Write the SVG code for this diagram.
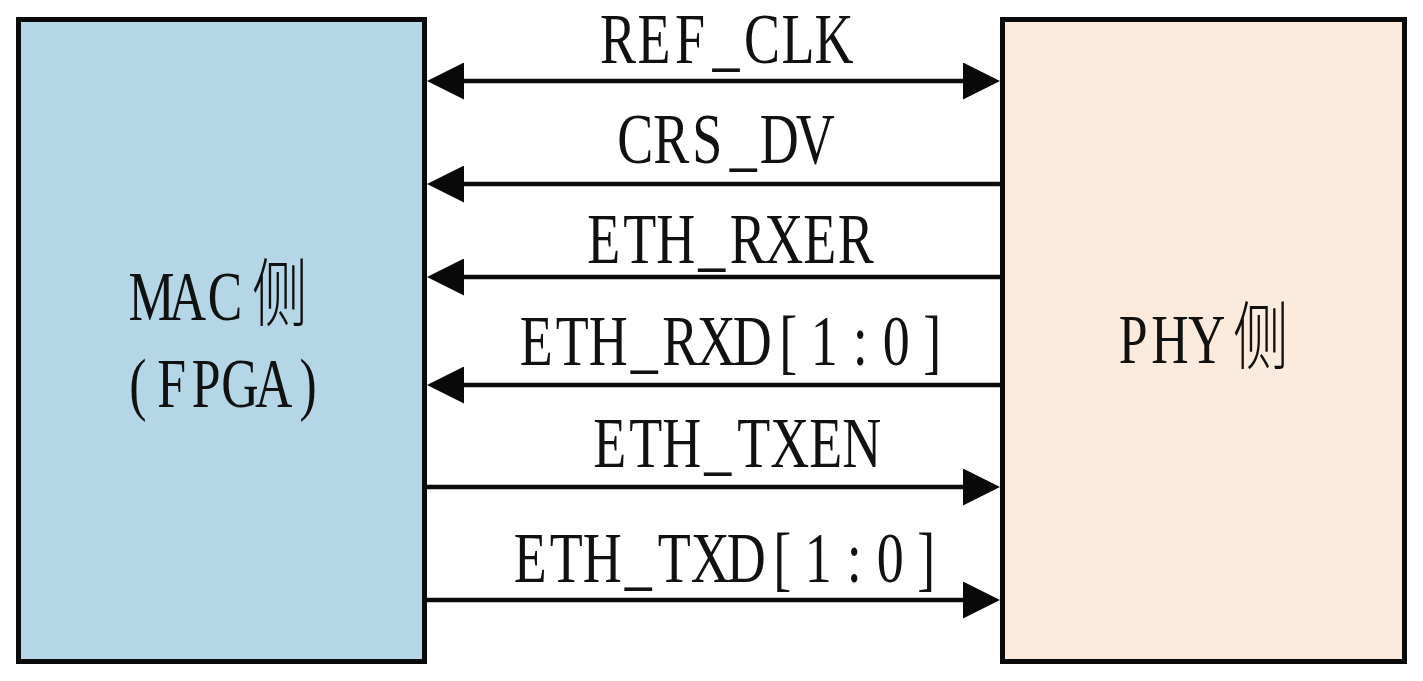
<svg xmlns="http://www.w3.org/2000/svg" width="1423" height="681" viewBox="0 0 1423 681">
<style>
.box{stroke:#0a0a0a;stroke-width:5}
.lbl{font-family:"Liberation Serif","Noto Sans CJK SC",serif;font-size:72px;fill:#111;text-anchor:middle}
.node{font-family:"Liberation Serif","Noto Sans CJK SC",serif;font-size:69px;fill:#111;text-anchor:middle}
.cjk{font-family:"Noto Sans CJK SC",sans-serif;font-size:74px;font-weight:300}
.wire{stroke:#0a0a0a;stroke-width:4.5;fill:none}
</style>
<defs>
<marker id="arr" markerUnits="userSpaceOnUse" viewBox="0 0 37 37" markerWidth="37" markerHeight="37" refX="27" refY="18.5" orient="auto-start-reverse">
<path d="M0,0 L37,18.5 L0,37 Z" fill="#0a0a0a"/>
</marker>
</defs>
<rect width="1423" height="681" fill="#ffffff"/>
<g id="mac">
<rect class="box" x="18.5" y="19.5" width="406" height="642" fill="#b4d6e6"/>
<text class="node" transform="scale(0.75,1)" x="202 250 300" y="320">MAC<tspan class="cjk" x="373">侧</tspan></text>
<text class="node" transform="scale(0.75,1)" x="184 229 275 320 365 411" y="407">(FPGA)</text>
</g>
<g id="phy">
<rect class="box" x="1002.5" y="19.5" width="402" height="642" fill="#fcebdc"/>
<text class="node" transform="scale(0.75,1)" x="1511 1560 1609" y="363">PHY<tspan class="cjk" x="1681">侧</tspan></text>
</g>
<g id="connectors">
<line class="wire" x1="437" y1="81" x2="990" y2="81" marker-start="url(#arr)" marker-end="url(#arr)"/>
<line class="wire" x1="1000" y1="184" x2="437" y2="184" marker-end="url(#arr)"/>
<line class="wire" x1="1000" y1="277" x2="437" y2="277" marker-end="url(#arr)"/>
<line class="wire" x1="1000" y1="385" x2="437" y2="385" marker-end="url(#arr)"/>
<line class="wire" x1="427" y1="487" x2="990" y2="487" marker-end="url(#arr)"/>
<line class="wire" x1="427" y1="600" x2="990" y2="600" marker-end="url(#arr)"/>
</g>
<g id="labels" transform="scale(0.75,1)">
<text class="lbl" x="824 872 920 968 1016 1064 1112" y="63">REF_CLK</text>
<text class="lbl" x="847 895 943 991 1039 1087" y="163">CRS_DV</text>
<text class="lbl" x="805 853 901 949 997 1045 1093 1141" y="263">ETH_RXER</text>
<text class="lbl" x="715 763 811 859 907 955 1003 1051 1099 1147 1195 1243" y="365">ETH_RXD[1:0]</text>
<text class="lbl" x="813 861 909 957 1005 1053 1101 1149" y="467">ETH_TXEN</text>
<text class="lbl" x="707 755 803 851 899 947 995 1043 1091 1139 1187 1235" y="582">ETH_TXD[1:0]</text>
</g>
</svg>
